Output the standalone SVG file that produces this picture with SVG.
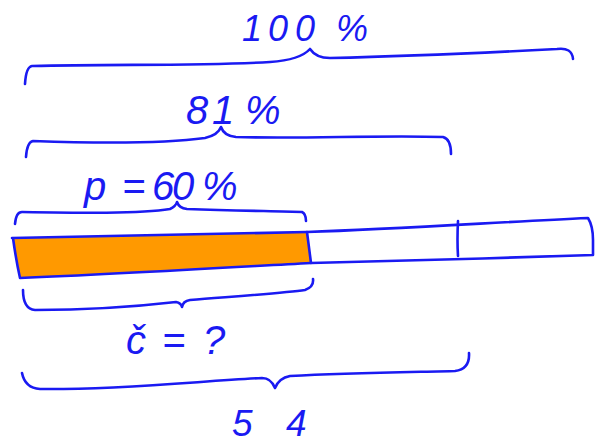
<svg xmlns="http://www.w3.org/2000/svg" width="596" height="445" viewBox="0 0 596 445">
<style>
.ink{fill:none;stroke:#1a1af2;stroke-width:2.6;stroke-linecap:round;stroke-linejoin:round}
.lbl{font-family:"Liberation Sans",Arial,sans-serif;font-style:italic;fill:#1a1af2}
</style>
<rect width="596" height="445" fill="#ffffff"/>
<g id="bar">
<polygon points="13,238 307,232 311,263 20,278" fill="#ff9900"/>
<path class="ink" d="M12,238 C120,236 220,233 307,232 C400,229 500,222 588,218 Q593,226 593,240 L593,255 C500,258 400,261 311,263 C220,268 120,274 20,278 Q16,260 13,238"/>
<path class="ink" d="M307,232 L311,263"/>
<path class="ink" d="M458,221 Q457,240 458,256"/>
</g>
<g id="braces">
<path id="brace-100" class="ink" d="M25,84 Q26,67 32,66 C120,64 200,66 270,62 Q300,60 310,49 Q316,58 330,58 C420,56 500,52 557,49 Q572,47 573,59"/>
<path id="brace-81" class="ink" d="M26,157 Q27,142 33,141 C90,143 160,144 205,138 Q218,135 221,127 Q224,136 236,137 C300,139 380,135 443,137 Q451,139 451,154"/>
<path id="brace-60" class="ink" d="M15,224 Q16,212 22,212 C80,213 140,214 170,209 Q176,206 177,202 Q179,208 187,209 C240,211 280,211 302,212 Q306,214 306,221"/>
<path id="brace-c" class="ink" d="M23,290 Q23,309 35,310 C100,310 150,305 176,302 Q181,303 182,307 Q183,301 190,300 C240,296 285,293 305,290 Q314,287 313,279"/>
<path id="brace-54" class="ink" d="M22,373 Q25,388 40,389 C120,390 200,381 262,378 Q271,378 275,388 Q279,378 290,376 C350,373 420,372 455,371 Q470,369 469,353"/>
</g>
<g id="label-100"><text class="lbl" font-size="36" x="242 268 295 320 336" y="41">100 %</text></g>
<g id="label-81"><text class="lbl" font-size="40" x="186 212 245" y="124">81%</text></g>
<g id="label-p"><text class="lbl" font-size="40" x="84 110 122 148 152 172 202" y="200">p = 60%</text></g>
<g id="label-c"><text class="lbl" font-size="40" x="126 150 162 190 203" y="354">č = ?</text></g>
<g id="label-54"><text class="lbl" font-size="37" x="232 260 286" y="436">5 4</text></g>
</svg>
